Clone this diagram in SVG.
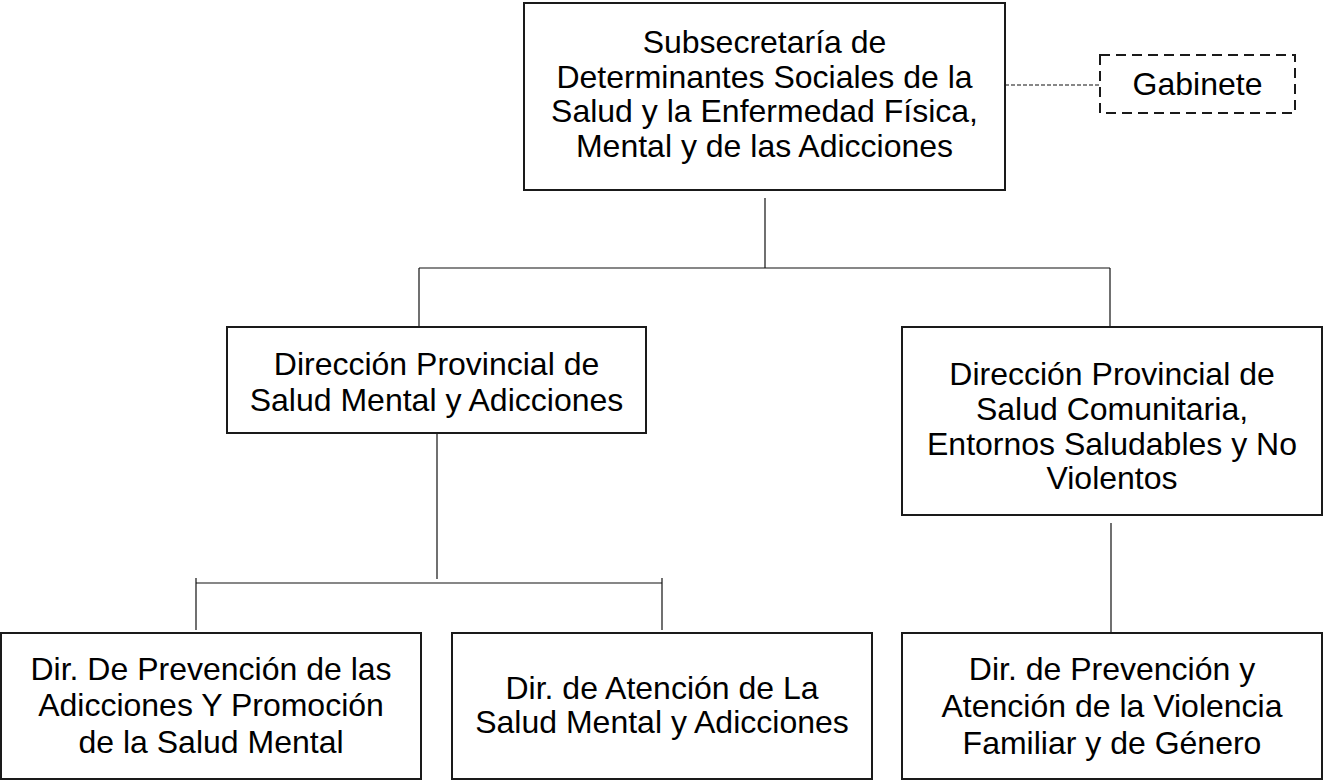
<svg xmlns="http://www.w3.org/2000/svg" width="1323" height="781" viewBox="0 0 1323 781">
<style>
.box{fill:#fff;stroke:#1a1a1a;stroke-width:2}
.dbox{fill:#fff;stroke:#1a1a1a;stroke-width:2;stroke-dasharray:10 6}
.ln{fill:none;stroke:#111;stroke-width:1.2}
.dl{fill:none;stroke:#111;stroke-width:1.2;stroke-dasharray:4 2}
text{font-family:"Liberation Sans",Arial,sans-serif;font-size:32px;fill:#000;text-anchor:middle}
</style>
<rect width="1323" height="781" fill="#fff"/>
<g id="connectors">
<line class="dl" x1="1005" y1="85" x2="1100" y2="85"/>
<line class="ln" x1="765" y1="198" x2="765" y2="268"/>
<line class="ln" x1="419" y1="268" x2="1110" y2="268"/>
<line class="ln" x1="419" y1="268" x2="419" y2="327"/>
<line class="ln" x1="1110" y1="268" x2="1110" y2="327"/>
<line class="ln" x1="437" y1="434" x2="437" y2="579"/>
<line class="ln" x1="196" y1="583" x2="662" y2="583"/>
<line class="ln" x1="196" y1="578" x2="196" y2="630"/>
<line class="ln" x1="662" y1="578" x2="662" y2="630"/>
<line class="ln" x1="1111" y1="523" x2="1111" y2="632"/>
</g>
<g id="subsecretaria">
<rect class="box" x="524" y="3" width="481" height="187"/>
<text x="764.5" y="53">Subsecretaría de</text>
<text x="764.5" y="88">Determinantes Sociales de la</text>
<text x="764.5" y="122">Salud y la Enfermedad Física,</text>
<text x="764.5" y="157">Mental y de las Adicciones</text>
</g>
<g id="gabinete">
<rect class="dbox" x="1100" y="55" width="195" height="58"/>
<text x="1197.5" y="95">Gabinete</text>
</g>
<g id="dp-salud-mental">
<rect class="box" x="227" y="327" width="419" height="106"/>
<text x="436.5" y="375">Dirección Provincial de</text>
<text x="436.5" y="411">Salud Mental y Adicciones</text>
</g>
<g id="dp-salud-comunitaria">
<rect class="box" x="902" y="327" width="420" height="188"/>
<text x="1112" y="385">Dirección Provincial de</text>
<text x="1112" y="420">Salud Comunitaria,</text>
<text x="1112" y="455">Entornos Saludables y No</text>
<text x="1112" y="489">Violentos</text>
</g>
<g id="dir-prevencion-adicciones">
<rect class="box" x="1" y="633" width="420" height="146"/>
<text x="211" y="680">Dir. De Prevención de las</text>
<text x="211" y="716">Adicciones Y Promoción</text>
<text x="211" y="753">de la Salud Mental</text>
</g>
<g id="dir-atencion-salud-mental">
<rect class="box" x="452" y="633" width="420" height="146"/>
<text x="662" y="699">Dir. de Atención de La</text>
<text x="662" y="733">Salud Mental y Adicciones</text>
</g>
<g id="dir-violencia">
<rect class="box" x="902" y="633" width="420" height="146"/>
<text x="1112" y="680">Dir. de Prevención y</text>
<text x="1112" y="717">Atención de la Violencia</text>
<text x="1112" y="754">Familiar y de Género</text>
</g>
</svg>
